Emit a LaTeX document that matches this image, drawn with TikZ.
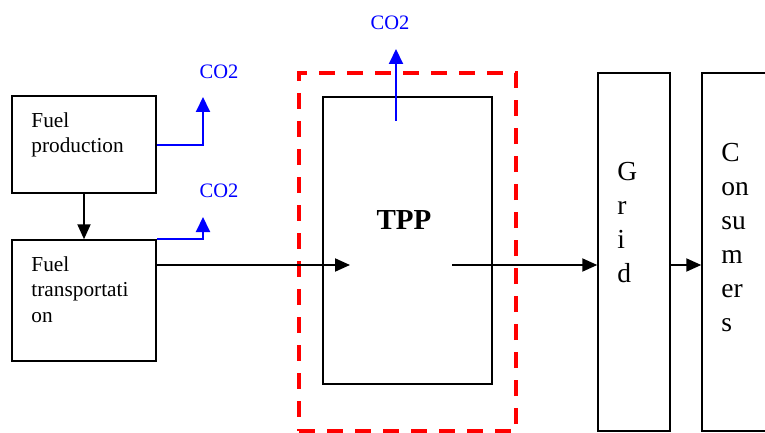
\documentclass[tikz,border=0pt]{standalone}
\usepackage{fontspec}
\setmainfont{Liberation Serif}
\usetikzlibrary{arrows.meta,positioning,calc}
\definecolor{Vent}{HTML}{0000FF}
\definecolor{Boundary}{HTML}{FF0000}
\tikzset{
  blk/.style={draw=black,fill=white,line width=1.5pt,inner sep=0pt},
  txt/.style={inner sep=0pt,align=left},
  boundary/.style={draw=Boundary,line width=3.2pt,dash pattern=on 16pt off 12pt,inner sep=0pt},
  flow/.style={-{Triangle[length=15pt,width=13pt]},draw=black,line width=2pt},
  vent/.style={-{Triangle[length=15pt,width=14pt]},draw=Vent,line width=2pt},
  co2/.style={text=Vent,inner sep=0pt,font=\fontsize{20.5}{24}\selectfont}
}
\begin{document}
\begin{tikzpicture}[x=1pt,y=-1pt]
      \useasboundingbox (0,0) rectangle (765,433);
      \node[boundary,minimum width=217,minimum height=358] (plant) at (407.5,252) {};
      \node[blk,minimum width=144,minimum height=97] (prod) at (84,144.5) {};
      \node[blk,minimum width=144,minimum height=121] (trans) at (84,300.5) {};
      \node[blk,minimum width=169,minimum height=287] (tpp) at (407.5,240.5) {};
      \node[blk,minimum width=72,minimum height=358] (grid) at (634,252) {};
      \node[blk,minimum width=110,minimum height=358] (cons) at (757,252) {};
      \node[txt,font=\fontsize{21.3}{25.5}\selectfont,below right=17pt and 20pt of prod.north west] (prodtxt) {Fuel\\production};
      \node[txt,font=\fontsize{21.3}{25.5}\selectfont,below right=17pt and 20pt of trans.north west] (transtxt) {Fuel\\transportati\\on};
      \node[font=\bfseries\fontsize{29}{34}\selectfont,inner sep=0pt] (tpptxt) at (404,220.5) {TPP};
      \node[txt,font=\fontsize{27.5}{34}\selectfont,below right=90pt and 20pt of grid.north west] (gridtxt) {G\\r\\i\\d};
      \node[txt,font=\fontsize{27.5}{34}\selectfont,below right=71pt and 20pt of cons.north west] (constxt) {C\\on\\su\\m\\er\\s};
      \node[co2] (co2prod) at (219,72) {CO2};
      \node[co2] (co2trans) at (219,191) {CO2};
      \node[co2] (co2tpp) at (390,23) {CO2};
      \coordinate (prodtip) at (203,97);
      \coordinate (transtip) at (203,217);
      \coordinate (tppvent) at (396,121);
      \coordinate (tpptip) at (396,49);
      \coordinate (tppin) at (350,265);
      \coordinate (tppout) at (452,265);
      \draw[vent] (prod.east) -| (prodtip);
      \draw[vent] (trans.north east) -| (transtip);
      \draw[vent] (tppvent) -- (tpptip);
      \draw[flow] (prod) -- (trans);
      \draw[flow] (trans.east |- tppin) -- (tppin);
      \draw[flow] (tppout) -- (tppout -| grid.west);
      \draw[flow] (grid.east |- tppout) -- (cons.west |- tppout);
    \end{tikzpicture}
\end{document}
